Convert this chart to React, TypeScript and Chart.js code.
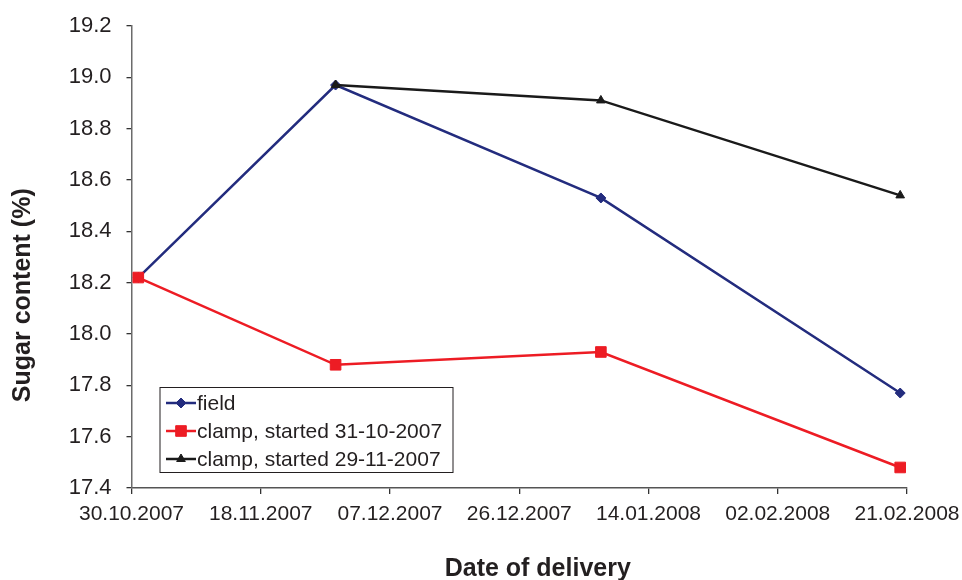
import React, { useEffect, useRef } from "react";
import { Chart, registerables } from "chart.js";
import { drawPoint } from "chart.js/helpers";

Chart.register(...registerables);

// ---- data ----
const axisStart = "30.10.2007";
const xTickLabels = ["30.10.2007", "18.11.2007", "07.12.2007", "26.12.2007", "14.01.2008", "02.02.2008", "21.02.2008"];
const tickStepDays = 19;

const fieldDates = ["31.10.2007", "29.11.2007", "07.01.2008", "20.02.2008"];
const fieldValues = [18.22, 18.97, 18.53, 17.77];

const clampOctDates = ["31.10.2007", "29.11.2007", "07.01.2008", "20.02.2008"];
const clampOctValues = [18.22, 17.88, 17.93, 17.48];

const clampNovDates = ["29.11.2007", "07.01.2008", "20.02.2008"];
const clampNovValues = [18.97, 18.91, 18.54];

const seriesLabels = ["field", "clamp, started 31-10-2007", "clamp, started 29-11-2007"];
const yTitle = "Sugar content (%)";
const xTitle = "Date of delivery";

// ---- helpers ----
const toUTC = (s: string) => {
  const [d, m, y] = s.split(".").map(Number);
  return Date.UTC(y, m - 1, d);
};
const dayOffset = (s: string) => Math.round((toUTC(s) - toUTC(axisStart)) / 86400000);
const toPoints = (dates: string[], vals: number[]) => dates.map((d, i) => ({ x: dayOffset(d), y: vals[i] }));

const FONT = '"Liberation Sans", Arial, Helvetica, sans-serif';
const TEXT = "#231f20";

const titlesPlugin = {
  id: "axisTitles",
  afterDraw(chart: any) {
    const { ctx, width, height } = chart;
    ctx.save();
    ctx.fillStyle = TEXT;
    ctx.font = `bold 25px ${FONT}`;
    ctx.textAlign = "center";
    ctx.textBaseline = "middle";
    // x title
    ctx.fillText(xTitle, width * 0.559, height - 11);
    // y title (rotated)
    ctx.translate(23, height * 0.509);
    ctx.rotate(-Math.PI / 2);
    ctx.fillText(yTitle, 0, 0);
    ctx.restore();
  },
};

const legendPlugin = {
  id: "insideLegend",
  afterDatasetsDraw(chart: any) {
    const { ctx, chartArea } = chart;
    const left = chartArea.left + 28.5;
    const top = chartArea.bottom - 100.5;
    const w = 293;
    const h = 85;
    ctx.save();
    ctx.fillStyle = "#ffffff";
    ctx.fillRect(left, top, w, h);
    ctx.strokeStyle = "#231f20";
    ctx.lineWidth = 1;
    ctx.strokeRect(left, top, w, h);
    ctx.font = `21px ${FONT}`;
    ctx.textBaseline = "middle";
    chart.data.datasets.forEach((ds: any, i: number) => {
      const y = top + 15.5 + i * 28;
      const x0 = left + 6;
      const x1 = left + 36;
      ctx.strokeStyle = ds.borderColor;
      ctx.lineWidth = ds.borderWidth;
      ctx.beginPath();
      ctx.moveTo(x0, y);
      ctx.lineTo(x1, y);
      ctx.stroke();
      ctx.fillStyle = ds.pointBackgroundColor;
      ctx.strokeStyle = ds.pointBorderColor;
      ctx.lineWidth = 1;
      drawPoint(ctx, { pointStyle: ds.pointStyle, radius: ds.pointRadius, rotation: 0, borderWidth: 1 } as any, (x0 + x1) / 2, y);
      ctx.fillStyle = TEXT;
      ctx.fillText(ds.label, x1 + 1, y + 1);
    });
    ctx.restore();
  },
};

export default function App() {
  const ref = useRef<HTMLCanvasElement>(null);

  useEffect(() => {
    document.body.style.margin = "0";
    const canvas = ref.current!;
    const chart = new Chart(canvas, {
      type: "line",
      data: {
        datasets: [
          {
            label: seriesLabels[0],
            data: toPoints(fieldDates, fieldValues),
            borderColor: "#232c7e",
            backgroundColor: "#232c7e",
            pointBackgroundColor: "#232c7e",
            pointBorderColor: "#232c7e",
            pointStyle: "rectRot",
            pointRadius: 5,
            pointBorderWidth: 1,
            borderWidth: 2.5,
            order: 2,
          },
          {
            label: seriesLabels[1],
            data: toPoints(clampOctDates, clampOctValues),
            borderColor: "#ed1c24",
            backgroundColor: "#ed1c24",
            pointBackgroundColor: "#ed1c24",
            pointBorderColor: "#ed1c24",
            pointStyle: "rect",
            pointRadius: 7.5,
            pointBorderWidth: 1,
            borderWidth: 2.5,
            order: 0,
          },
          {
            label: seriesLabels[2],
            data: toPoints(clampNovDates, clampNovValues),
            borderColor: "#1a1a1a",
            backgroundColor: "#1a1a1a",
            pointBackgroundColor: "#1a1a1a",
            pointBorderColor: "#1a1a1a",
            pointStyle: "triangle",
            pointRadius: 5,
            pointBorderWidth: 1,
            borderWidth: 2.5,
            order: 1,
          },
        ] as any,
      },
      options: {
        animation: false,
        responsive: false,
        maintainAspectRatio: false,
        devicePixelRatio: 1,
        layout: { padding: { left: 0, right: 55, top: 26, bottom: 0 } },
        plugins: {
          legend: { display: false },
          tooltip: { enabled: false },
        },
        scales: {
          x: {
            type: "linear",
            position: "bottom",
            min: 0,
            max: (xTickLabels.length - 1) * tickStepDays,
            afterFit: (s: any) => {
              s.height = 92;
              s.paddingLeft = 0;
              s.paddingRight = 0;
            },
            ticks: {
              stepSize: tickStepDays,
              padding: 8,
              color: TEXT,
              font: { family: FONT, size: 21 },
              maxRotation: 0,
              autoSkip: false,
              callback: (v: any) => {
                const idx = Math.round(Number(v) / tickStepDays);
                return xTickLabels[idx] ?? "";
              },
            },
            grid: {
              display: true,
              drawOnChartArea: false,
              drawTicks: true,
              tickLength: 6,
              color: "#333333",
              lineWidth: 1.3,
            },
            border: { display: true, color: "#555555", width: 1.5 },
            title: { display: false },
          },
          y: {
            type: "linear",
            min: 17.4,
            max: 19.2,
            afterFit: (s: any) => {
              s.width = 131.5;
              s.paddingTop = 0;
              s.paddingBottom = 0;
            },
            ticks: {
              stepSize: 0.2,
              padding: 15,
              color: TEXT,
              font: { family: FONT, size: 22 },
              callback: (v: any) => Number(v).toFixed(1),
            },
            grid: {
              display: true,
              drawOnChartArea: false,
              drawTicks: true,
              tickLength: 5,
              color: "#333333",
              lineWidth: 1.3,
            },
            border: { display: true, color: "#6b6b6b", width: 1.5 },
            title: { display: false },
          },
        },
      } as any,
      plugins: [legendPlugin, titlesPlugin],
    });
    return () => chart.destroy();
  }, []);

  return (
    <div style={{ width: 962, height: 580, background: "#fff" }}>
      <canvas ref={ref} width={962} height={580} style={{ display: "block" }} />
    </div>
  );
}
